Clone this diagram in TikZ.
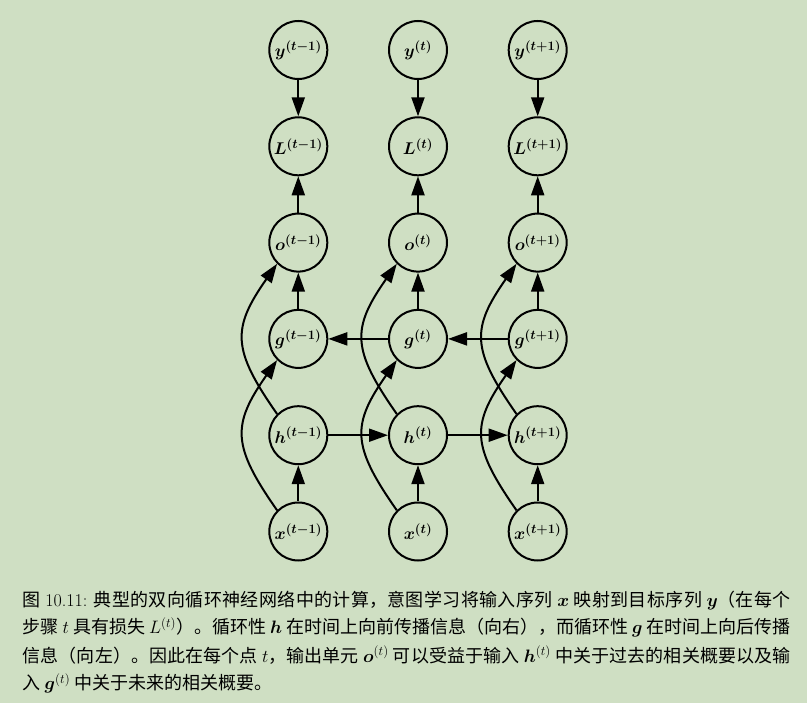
\RequirePackage{fix-cm}
\documentclass[tikz,border=0pt]{standalone}
\usepackage{fontspec}
\usepackage{amsmath}
\usepackage{bm}
\newfontfamily\cjk{Noto Sans CJK SC}
\XeTeXlinebreaklocale "zh"
\XeTeXlinebreakskip=0pt plus 1.5pt minus 0.3pt
\DeclareMathSizes{17}{17}{13}{10}
\DeclareMathSizes{18}{18}{13}{10}
\usetikzlibrary{%
  arrows.meta,% Triangle tips
  positioning% wg. " of "
}
\definecolor{sagebg}{RGB}{207,223,195}

\begin{document}
\begin{tikzpicture}[x=1pt,y=1pt,node distance=36.3pt and 59.7pt]
       \tikzset{var/.style={circle, draw, line width=2pt, minimum size=58pt,
                inner sep=0pt, font=\fontsize{17}{20}\selectfont\boldmath}}
       \tikzset{link/.style={line width=2pt, -{Triangle[length=19pt,width=13pt]}}}
       \tikzset{caption/.style={text width=768pt, align=justify, inner sep=0pt,
                font=\cjk\fontsize{18}{28}\selectfont}}

        \fill[sagebg] (0,0) rectangle (807,-703);
        \useasboundingbox (0,0) rectangle (807,-703);

        % step t-1
        \node[var] (y1) at (298.3,-50) {$y^{(t-1)}$};
        \node[var, below = of y1] (L1) {$L^{(t-1)}$};
        \node[var, below = of L1] (o1) {$o^{(t-1)}$};
        \node[var, below = of o1] (g1) {$g^{(t-1)}$};
        \node[var, below = of g1] (h1) {$h^{(t-1)}$};
        \node[var, below = of h1] (x1) {$x^{(t-1)}$};
        % step t
        \node[var, right = of y1] (y2) {$y^{(t)}$};
        \node[var, below = of y2] (L2) {$L^{(t)}$};
        \node[var, below = of L2] (o2) {$o^{(t)}$};
        \node[var, below = of o2] (g2) {$g^{(t)}$};
        \node[var, below = of g2] (h2) {$h^{(t)}$};
        \node[var, below = of h2] (x2) {$x^{(t)}$};
        % step t+1
        \node[var, right = of y2] (y3) {$y^{(t+1)}$};
        \node[var, below = of y3] (L3) {$L^{(t+1)}$};
        \node[var, below = of L3] (o3) {$o^{(t+1)}$};
        \node[var, below = of o3] (g3) {$g^{(t+1)}$};
        \node[var, below = of g3] (h3) {$h^{(t+1)}$};
        \node[var, below = of h3] (x3) {$x^{(t+1)}$};

        \draw[link] (y1) -- (L1);
        \draw[link] (o1) -- (L1);
        \draw[link] (g1) -- (o1);
        \draw[link] (x1) -- (h1);
        \draw[link] (h1.135) to[bend left=35, looseness=1.35] (o1.225);
        \draw[link] (x1.135) to[bend left=35, looseness=1.35] (g1.225);

        \draw[link] (y2) -- (L2);
        \draw[link] (o2) -- (L2);
        \draw[link] (g2) -- (o2);
        \draw[link] (x2) -- (h2);
        \draw[link] (h2.135) to[bend left=35, looseness=1.35] (o2.225);
        \draw[link] (x2.135) to[bend left=35, looseness=1.35] (g2.225);

        \draw[link] (y3) -- (L3);
        \draw[link] (o3) -- (L3);
        \draw[link] (g3) -- (o3);
        \draw[link] (x3) -- (h3);
        \draw[link] (h3.135) to[bend left=35, looseness=1.35] (o3.225);
        \draw[link] (x3.135) to[bend left=35, looseness=1.35] (g3.225);

        \draw[link] (h1) -- (h2);
        \draw[link] (h2) -- (h3);
        \draw[link] (g2) -- (g1);
        \draw[link] (g3) -- (g2);

        \node[caption, anchor=base west] (cap) at (22.5,-606) {\tolerance=9999
          图 {\rmfamily 10.11:} 典型的双向循环神经网络中的计算，意图学习将输入序列 $\bm{x}$ 映射到目标序列 $\bm{y}$（在每个\linebreak
          步骤 $t$ 具有损失 $L^{(t)}$）。循环性 $\bm{h}$ 在时间上向前传播信息（向右），而循环性 $\bm{g}$ 在时间上向后传播\linebreak
          信息（向左）。因此在每个点 $t$，输出单元 $\bm{o}^{(t)}$ 可以受益于输入 $\bm{h}^{(t)}$ 中关于过去的相关概要以及输\linebreak
          入 $\bm{g}^{(t)}$ 中关于未来的相关概要。};
   \end{tikzpicture}
\end{document}
